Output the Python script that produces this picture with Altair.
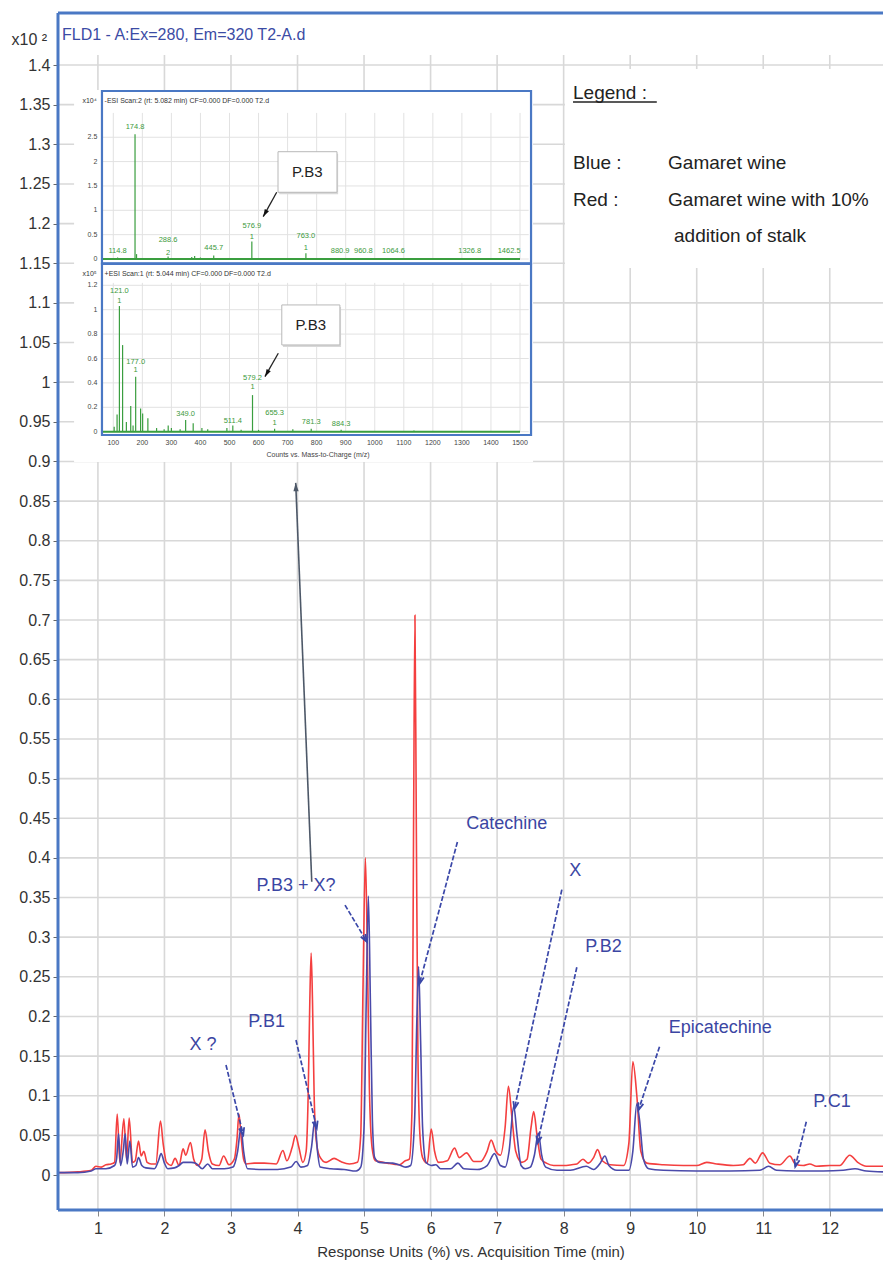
import math
import altair as alt
import pandas as pd

# ---------------- main chromatogram (response x10^2) ----------------
red_trace = [
    (0.40, 0.003), (0.70, 0.004), (0.90, 0.006), (0.97, 0.011), (1.05, 0.010), (1.12, 0.013),
    (1.20, 0.014), (1.25, 0.016), (1.29, 0.077), (1.33, 0.016), (1.39, 0.071), (1.43, 0.020),
    (1.47, 0.072), (1.52, 0.016), (1.56, 0.018), (1.61, 0.043), (1.65, 0.024), (1.69, 0.030),
    (1.74, 0.016), (1.80, 0.014), (1.87, 0.014), (1.94, 0.068), (1.98, 0.040), (2.03, 0.016),
    (2.10, 0.012), (2.16, 0.021), (2.22, 0.012), (2.28, 0.033), (2.32, 0.025), (2.39, 0.041),
    (2.44, 0.020), (2.50, 0.012), (2.56, 0.020), (2.61, 0.057), (2.66, 0.030), (2.72, 0.014),
    (2.82, 0.012), (2.89, 0.024), (2.97, 0.013), (3.05, 0.020), (3.09, 0.045), (3.12, 0.077),
    (3.15, 0.050), (3.19, 0.020), (3.23, 0.014), (3.35, 0.015), (3.50, 0.015), (3.68, 0.014),
    (3.78, 0.031), (3.84, 0.018), (3.92, 0.035), (3.97, 0.050), (4.02, 0.035), (4.08, 0.016),
    (4.13, 0.030), (4.16, 0.100), (4.185, 0.220), (4.205, 0.280), (4.225, 0.220), (4.25, 0.100),
    (4.28, 0.045), (4.33, 0.024), (4.43, 0.016), (4.55, 0.021), (4.65, 0.017), (4.78, 0.014),
    (4.90, 0.016), (4.95, 0.050), (4.985, 0.240), (5.02, 0.400), (5.05, 0.280), (5.08, 0.110),
    (5.12, 0.035), (5.17, 0.018), (5.23, 0.017), (5.35, 0.015), (5.53, 0.013), (5.62, 0.018),
    (5.68, 0.020), (5.72, 0.080), (5.745, 0.450), (5.765, 0.706), (5.785, 0.450), (5.81, 0.150),
    (5.84, 0.050), (5.88, 0.022), (5.95, 0.015), (6.01, 0.058), (6.06, 0.030), (6.12, 0.016),
    (6.25, 0.018), (6.36, 0.034), (6.43, 0.022), (6.54, 0.028), (6.65, 0.017), (6.75, 0.017),
    (6.85, 0.030), (6.91, 0.044), (6.98, 0.030), (7.05, 0.025), (7.12, 0.060), (7.17, 0.112),
    (7.22, 0.075), (7.28, 0.030), (7.37, 0.016), (7.45, 0.020), (7.51, 0.060), (7.55, 0.080),
    (7.60, 0.050), (7.66, 0.020), (7.74, 0.015), (7.85, 0.012), (8.00, 0.012), (8.12, 0.013),
    (8.20, 0.014), (8.29, 0.020), (8.37, 0.015), (8.45, 0.022), (8.51, 0.032), (8.58, 0.018),
    (8.70, 0.013), (8.90, 0.012), (8.98, 0.040), (9.04, 0.143), (9.10, 0.100), (9.16, 0.030),
    (9.25, 0.015), (9.50, 0.013), (9.80, 0.012), (10.00, 0.012), (10.15, 0.016), (10.30, 0.014),
    (10.55, 0.012), (10.70, 0.013), (10.80, 0.021), (10.88, 0.015), (10.99, 0.028), (11.10, 0.015),
    (11.25, 0.013), (11.40, 0.024), (11.48, 0.014), (11.60, 0.012), (11.70, 0.014), (11.80, 0.011),
    (12.00, 0.012), (12.15, 0.012), (12.30, 0.025), (12.42, 0.016), (12.55, 0.011), (12.80, 0.011),
]

blue_trace = [
    (0.40, 0.003), (0.70, 0.003), (0.90, 0.005), (0.97, 0.008), (1.12, 0.008), (1.25, 0.012),
    (1.28, 0.020), (1.31, 0.052), (1.34, 0.012), (1.38, 0.030), (1.41, 0.052), (1.44, 0.014),
    (1.48, 0.043), (1.52, 0.010), (1.57, 0.012), (1.61, 0.022), (1.66, 0.012), (1.72, 0.009),
    (1.85, 0.008), (1.91, 0.018), (1.95, 0.027), (2.00, 0.015), (2.05, 0.008), (2.15, 0.009),
    (2.22, 0.012), (2.28, 0.016), (2.40, 0.016), (2.47, 0.015), (2.57, 0.008), (2.65, 0.014),
    (2.72, 0.008), (2.90, 0.008), (3.03, 0.010), (3.10, 0.030), (3.15, 0.060), (3.19, 0.030),
    (3.25, 0.008), (3.50, 0.007), (3.70, 0.007), (3.90, 0.010), (3.98, 0.017), (4.05, 0.010),
    (4.15, 0.012), (4.21, 0.035), (4.26, 0.069), (4.30, 0.030), (4.34, 0.010), (4.50, 0.008),
    (4.70, 0.007), (4.88, 0.005), (4.95, 0.010), (5.00, 0.060), (5.035, 0.230), (5.065, 0.352),
    (5.095, 0.220), (5.125, 0.070), (5.16, 0.022), (5.23, 0.016), (5.43, 0.015), (5.55, 0.012),
    (5.63, 0.010), (5.70, 0.012), (5.76, 0.070), (5.795, 0.200), (5.82, 0.263), (5.85, 0.170),
    (5.88, 0.060), (5.93, 0.016), (6.01, 0.012), (6.08, 0.013), (6.15, 0.008), (6.30, 0.008),
    (6.41, 0.015), (6.50, 0.008), (6.70, 0.007), (6.85, 0.012), (6.96, 0.027), (7.05, 0.012),
    (7.12, 0.010), (7.18, 0.030), (7.25, 0.087), (7.30, 0.050), (7.36, 0.012), (7.42, 0.008),
    (7.50, 0.010), (7.56, 0.025), (7.62, 0.053), (7.67, 0.025), (7.73, 0.010), (7.90, 0.006),
    (8.10, 0.006), (8.34, 0.011), (8.45, 0.007), (8.55, 0.015), (8.62, 0.024), (8.68, 0.012),
    (8.80, 0.006), (8.98, 0.006), (9.04, 0.030), (9.10, 0.090), (9.14, 0.070), (9.20, 0.020),
    (9.28, 0.008), (9.50, 0.006), (10.00, 0.005), (10.50, 0.005), (10.95, 0.006), (11.08, 0.011),
    (11.20, 0.006), (11.50, 0.005), (11.90, 0.005), (12.20, 0.006), (12.38, 0.008), (12.55, 0.005),
    (12.80, 0.004),
]

# annotations: label text, label position, arrow start, arrow end (time, response)
ann_labels = ["X ?", "P.B1", "P.B3 + X?", "Catechine", "X", "P.B2", "Epicatechine", "P.C1"]
ann_label_t = [2.579, 3.537, 3.977, 7.146, 8.173, 8.599, 10.353, 12.033]
ann_label_v = [0.164, 0.193, 0.3645, 0.4427, 0.384, 0.2876, 0.1854, 0.0925]
arrow_t1 = [2.925, 3.977, 4.714, 6.403, 7.973, 8.198, 9.441, 11.647]
arrow_v1 = [0.1387, 0.1703, 0.3405, 0.420, 0.360, 0.262, 0.1618, 0.0672]
arrow_t2 = [3.185, 4.289, 5.041, 5.832, 7.260, 7.606, 9.125, 11.481]
arrow_v2 = [0.0505, 0.0589, 0.2943, 0.241, 0.0835, 0.040, 0.082, 0.0105]
link_arrow = [(4.214, 0.370), (3.973, 0.873)]

x_ticks = list(range(1, 13))
y_ticks = [round(0.05 * i, 2) for i in range(29)]

legend_title = "Legend :"
legend_keys = ["Blue :", "Red :"]
legend_vals = ["Gamaret wine", "Gamaret wine with  10%"]
legend_extra = "addition of stalk"

# ---------------- inset mass spectra ----------------
top_mz = [114.8, 174.8, 180.0, 288.6, 370.0, 380.0, 400.0, 445.7, 500.0, 576.9, 620.0, 763.0,
          880.9, 960.8, 1064.6, 1326.8, 1462.5]
top_int = [0.03, 2.56, 0.10, 0.05, 0.04, 0.06, 0.03, 0.07, 0.02, 0.36, 0.02, 0.12,
           0.02, 0.015, 0.015, 0.015, 0.02]
top_lab_mz = [114.8, 174.8, 288.6, 288.6, 445.7, 576.9, 576.9, 763.0, 763.0, 880.9, 960.8, 1064.6, 1326.8, 1462.5]
top_lab_v = [0.17, 2.72, 0.39, 0.12, 0.22, 0.68, 0.46, 0.48, 0.23, 0.17, 0.17, 0.17, 0.17, 0.17]
top_lab_txt = ["114.8", "174.8", "288.6", "2", "445.7", "576.9", "1", "763.0", "1", "880.9", "960.8",
               "1064.6", "1326.8", "1462.5"]
top_yticks = [0, 0.5, 1, 1.5, 2, 2.5]

bot_mz = [103, 113, 121.0, 132, 145, 160, 168, 177.0, 194, 201, 219, 249, 275, 289, 300, 330,
          349.0, 375, 405, 425, 491, 511.4, 540, 579.2, 600, 655.3, 718, 781.3, 884.3, 1135]
bot_int = [0.04, 0.14, 1.03, 0.71, 0.08, 0.21, 0.05, 0.45, 0.19, 0.15, 0.11, 0.03, 0.02, 0.05, 0.03, 0.02,
           0.096, 0.07, 0.03, 0.02, 0.03, 0.05, 0.015, 0.30, 0.015, 0.025, 0.02, 0.025, 0.015, 0.01]
bot_lab_mz = [121.0, 121.0, 177.0, 177.0, 349.0, 511.4, 579.2, 579.2, 655.3, 655.3, 781.3, 884.3]
bot_lab_v = [1.156, 1.074, 0.574, 0.506, 0.145, 0.09, 0.438, 0.369, 0.156, 0.069, 0.082, 0.063]
bot_lab_txt = ["121.0", "1", "177.0", "1", "349.0", "511.4", "579.2", "1", "655.3", "1", "781.3", "884.3"]
bot_yticks = [0, 0.2, 0.4, 0.6, 0.8, 1, 1.2]
mz_ticks = list(range(100, 1600, 100))

# ---------------- geometry / styles ----------------
W, H = 825, 1197
XDOM = [0.4, 12.8]
YDOM = [-0.0441, 1.4656]
PXX = W / (XDOM[1] - XDOM[0])
PXY = H / (YDOM[1] - YDOM[0])

NARROW = "Liberation Sans Narrow, Arial Narrow, Liberation Sans, sans-serif"
SANS = "Liberation Sans, Arial, sans-serif"
BLUE_TXT = "#3b46a3"
FRAME = "#4a78c4"
GRID = "#d8d8d8"
GREEN = "#3a9e3f"

xs = alt.Scale(domain=XDOM, nice=False, zero=False)
ys = alt.Scale(domain=YDOM, nice=False, zero=False)

AX_X = alt.Axis(values=x_ticks, title="Response Units (%) vs. Acquisition Time (min)", grid=False,
                domain=False, ticks=True, tickSize=6, tickColor="#888", labelFont=NARROW,
                labelFontSize=16, labelColor="#333", labelPadding=4, titleFont=NARROW,
                titleFontSize=15, titleFontWeight="normal", titleColor="#333", titlePadding=8)
AX_Y = alt.Axis(values=y_ticks, format="~g", title="x10 \u00b2", grid=False, domain=False,
                ticks=True, tickSize=5, tickColor="#666", labelFont=NARROW, labelFontSize=16,
                labelColor="#333", labelPadding=3, titleFont=NARROW, titleFontSize=16,
                titleFontWeight="normal", titleColor="#333", titleAngle=0, titleAlign="left",
                titleBaseline="alphabetic", titleX=-47, titleY=31)


def X(f):
    return alt.X(f, type="quantitative", scale=xs, axis=AX_X)


def Y(f):
    return alt.Y(f, type="quantitative", scale=ys, axis=AX_Y)


def angle(x1, y1, x2, y2, sx, sy):
    dx = (x2 - x1) * sx
    dy = -(y2 - y1) * sy
    return math.degrees(math.atan2(dx, -dy)) % 360


V_HEAD = "M-0.55,1.5 L0,0 L0.55,1.5"
F_HEAD = "M0,0 L-0.5,1.6 L0.5,1.6 Z"

# ---- main layers ----
vgrid = pd.DataFrame({"t": x_ticks, "y0": YDOM[0], "y1": 1.4126})
hgrid = pd.DataFrame({"v": y_ticks, "x0": XDOM[0], "x1": XDOM[1]})
grid_v = alt.Chart(vgrid).mark_rule(color=GRID, strokeWidth=1.6).encode(x=X("t"), y=Y("y0"), y2="y1")
grid_h = alt.Chart(hgrid).mark_rule(color=GRID, strokeWidth=1.6).encode(x=X("x0"), x2="x1", y=Y("v"))

traces = pd.concat([
    pd.DataFrame(red_trace, columns=["t", "v"]).assign(s="red", o=lambda d: range(len(d))),
    pd.DataFrame(blue_trace, columns=["t", "v"]).assign(s="blue", o=lambda d: range(len(d))),
])
lines = alt.Chart(traces).mark_line(strokeWidth=1.6, interpolate="monotone").encode(
    x=X("t"), y=Y("v"), order="o:Q", detail="s:N",
    color=alt.Color("s:N", scale=alt.Scale(domain=["red", "blue"], range=["#f43f3f", "#4a4aaa"]), legend=None),
)

arr = pd.DataFrame({"t1": arrow_t1, "v1": arrow_v1, "t2": arrow_t2, "v2": arrow_v2})
arr["ang"] = [angle(a, b, c, d, PXX, PXY) for a, b, c, d in zip(arrow_t1, arrow_v1, arrow_t2, arrow_v2)]
arrow_lines = alt.Chart(arr).mark_rule(color="#3a47a8", strokeWidth=1.7, strokeDash=[5, 2]).encode(
    x=X("t1"), y=Y("v1"), x2="t2", y2="v2")
arrow_heads = alt.Chart(arr).mark_point(shape=V_HEAD, filled=False, size=95, color="#3a47a8",
                                        strokeWidth=1.8, opacity=1).encode(
    x=X("t2"), y=Y("v2"), angle=alt.Angle("ang:Q", scale=None))
ann = pd.DataFrame({"txt": ann_labels, "t": ann_label_t, "v": ann_label_v})
ann_text = alt.Chart(ann).mark_text(font=SANS, fontSize=18, color=BLUE_TXT, align="center",
                                    baseline="middle").encode(x=X("t"), y=Y("v"), text="txt:N")

lk = pd.DataFrame({"t1": [link_arrow[0][0]], "v1": [link_arrow[0][1]],
                   "t2": [link_arrow[1][0]], "v2": [link_arrow[1][1]]})
lk["ang"] = [angle(link_arrow[0][0], link_arrow[0][1], link_arrow[1][0], link_arrow[1][1], PXX, PXY)]
link_line = alt.Chart(lk).mark_rule(color="#4d5868", strokeWidth=1.6).encode(
    x=X("t1"), y=Y("v1"), x2="t2", y2="v2")
link_head = alt.Chart(lk).mark_point(shape=F_HEAD, filled=True, size=110, color="#4d5868", opacity=1).encode(
    x=X("t2"), y=Y("v2"), angle=alt.Angle("ang:Q", scale=None))

title_df = pd.DataFrame({"txt": ["FLD1 - A:Ex=280, Em=320 T2-A.d"], "t": [0.46], "v": [1.438]})
title_text = alt.Chart(title_df).mark_text(font=NARROW, fontSize=16, color="#3b4ba5", align="left",
                                           baseline="middle").encode(x=X("t"), y=Y("v"), text="txt:N")

leg_box = alt.Chart(pd.DataFrame({"a": [8.02], "b": [XDOM[1]], "c": [1.144], "d": [1.395]})).mark_rect(
    color="white").encode(x=X("a"), x2="b", y=Y("c"), y2="d")
leg_df = pd.DataFrame({
    "txt": [legend_title] + legend_keys + legend_vals + [legend_extra],
    "t": [8.141, 8.141, 8.141, 9.569, 9.569, 9.659],
    "v": [1.3647, 1.2764, 1.2297, 1.2764, 1.2297, 1.1843],
})
leg_text = alt.Chart(leg_df).mark_text(font=SANS, fontSize=19, color="#222", align="left",
                                       baseline="middle").encode(x=X("t"), y=Y("v"), text="txt:N")
leg_ul = alt.Chart(pd.DataFrame({"a": [8.141], "b": [9.40], "v": [1.3533]})).mark_rule(
    color="#222", strokeWidth=1.5).encode(x=X("a"), x2="b", y=Y("v"))

frame = alt.Chart(pd.DataFrame({"k": [0]})).mark_rule(color=FRAME, strokeWidth=3)
frame_l = frame.encode(x=alt.value(0), y=alt.value(0), y2=alt.value(H))
frame_t = frame.encode(x=alt.value(0), x2=alt.value(W), y=alt.value(0))
frame_b = frame.encode(x=alt.value(0), x2=alt.value(W), y=alt.value(H))

main = alt.layer(grid_v, grid_h, lines, arrow_lines, arrow_heads, ann_text, link_line, link_head,
                 title_text, leg_box, leg_text, leg_ul, frame_l, frame_t, frame_b)

# ---- inset ----
IX = alt.Scale(domain=[100, 1500], range=[55.3, 462.0], nice=False, zero=False)
ITY = alt.Scale(domain=[0, 2.5], range=[246.0, 124.25], nice=False, zero=False)
IBY = alt.Scale(domain=[0, 1.2], range=[418.7, 272.3], nice=False, zero=False)
PX_MZ = (462.0 - 55.3) / 1400
PX_TOP = (246.0 - 124.25) / 2.5
PX_BOT = (418.7 - 272.3) / 1.2


def panel(ys_, mz, inten, lab_mz, lab_v, lab_txt, yticks, grid_top, frame_box, header, header_v,
          exp_txt, callout, py_unit, bg=None, xlabels=False):
    def IXe(f):
        return alt.X(f, type="quantitative", scale=IX, axis=None)

    def IYe(f):
        return alt.Y(f, type="quantitative", scale=ys_, axis=None)

    layers = []
    if bg is not None:
        layers.append(alt.Chart(pd.DataFrame([bg], columns=["a", "b", "c", "d"])).mark_rect(
            color="white").encode(x=IXe("a"), x2="b", y=IYe("c"), y2="d"))
    gv = pd.DataFrame({"m": mz_ticks, "y0": 0, "y1": grid_top})
    layers.append(alt.Chart(gv).mark_rule(color="#e2e2e2", strokeWidth=1).encode(x=IXe("m"), y=IYe("y0"), y2="y1"))
    gh = pd.DataFrame({"v": yticks, "x0": 64, "x1": 1530})
    layers.append(alt.Chart(gh).mark_rule(color="#e2e2e2", strokeWidth=1).encode(x=IXe("x0"), x2="x1", y=IYe("v")))
    layers.append(alt.Chart(pd.DataFrame({"a": [64], "b": [1500], "v": [0]})).mark_rule(
        color=GREEN, strokeWidth=2).encode(x=IXe("a"), x2="b", y=IYe("v")))
    sp = pd.DataFrame({"m": mz, "i": inten, "z": 0})
    layers.append(alt.Chart(sp).mark_rule(color=GREEN, strokeWidth=1.2).encode(x=IXe("m"), y=IYe("z"), y2="i"))
    lb = pd.DataFrame({"m": lab_mz, "v": lab_v, "txt": lab_txt})
    layers.append(alt.Chart(lb).mark_text(font=SANS, fontSize=7.5, color="#3c9a3c", align="center",
                                          baseline="middle").encode(x=IXe("m"), y=IYe("v"), text="txt:N"))
    yt = pd.DataFrame({"v": yticks, "m": 45, "txt": [("%g" % t) for t in yticks]})
    layers.append(alt.Chart(yt).mark_text(font=SANS, fontSize=7, color="#444", align="right",
                                          baseline="middle").encode(x=IXe("m"), y=IYe("v"), text="txt:N"))
    hd = pd.DataFrame({"m": [43, 70], "v": [header_v, header_v], "txt": [exp_txt, header], "al": ["r", "l"]})
    layers.append(alt.Chart(hd[hd.al == "r"]).mark_text(font=SANS, fontSize=7, color="#333", align="right",
                                                        baseline="middle").encode(x=IXe("m"), y=IYe("v"), text="txt:N"))
    layers.append(alt.Chart(hd[hd.al == "l"]).mark_text(font=SANS, fontSize=7, color="#333", align="left",
                                                        baseline="middle").encode(x=IXe("m"), y=IYe("v"), text="txt:N"))
    if xlabels:
        xt = pd.DataFrame({"m": mz_ticks, "v": -0.093, "txt": [str(m) for m in mz_ticks]})
        layers.append(alt.Chart(xt).mark_text(font=SANS, fontSize=7, color="#444", align="center",
                                              baseline="middle").encode(x=IXe("m"), y=IYe("v"), text="txt:N"))
        at = pd.DataFrame({"m": [804.6], "v": [-0.191], "txt": ["Counts vs. Mass-to-Charge (m/z)"]})
        layers.append(alt.Chart(at).mark_text(font=SANS, fontSize=7, color="#444", align="center",
                                              baseline="middle").encode(x=IXe("m"), y=IYe("v"), text="txt:N"))
    # callout box + arrow
    (bx0, bx1, by0, by1, tx, tv, ax1, av1, ax2, av2) = callout
    layers.append(alt.Chart(pd.DataFrame({"a": [bx0 + 4], "b": [bx1 + 4], "c": [by0 - 2 / py_unit],
                                          "d": [by1 - 2 / py_unit]})).mark_rect(
        color="#d8d8d8").encode(x=IXe("a"), x2="b", y=IYe("c"), y2="d"))
    layers.append(alt.Chart(pd.DataFrame({"a": [bx0], "b": [bx1], "c": [by0], "d": [by1]})).mark_rect(
        fill="white", stroke="#b8b8b8", strokeWidth=1).encode(x=IXe("a"), x2="b", y=IYe("c"), y2="d"))
    layers.append(alt.Chart(pd.DataFrame({"m": [tx], "v": [tv], "txt": ["P.B3"]})).mark_text(
        font=NARROW, fontSize=15, color="#222", align="center", baseline="middle").encode(
        x=IXe("m"), y=IYe("v"), text="txt:N"))
    ca = pd.DataFrame({"a": [ax1], "b": [av1], "c": [ax2], "d": [av2],
                       "ang": [angle(ax1, av1, ax2, av2, PX_MZ, py_unit)]})
    layers.append(alt.Chart(ca).mark_rule(color="#222", strokeWidth=1.3).encode(
        x=IXe("a"), y=IYe("b"), x2="c", y2="d"))
    layers.append(alt.Chart(ca).mark_point(shape=F_HEAD, filled=True, size=90, color="#111", opacity=1).encode(
        x=IXe("c"), y=IYe("d"), angle=alt.Angle("ang:Q", scale=None)))
    # frame
    fb = pd.DataFrame([frame_box], columns=["a", "b", "c", "d"])
    layers.append(alt.Chart(fb).mark_rect(fill=None, stroke=FRAME, strokeWidth=2.2).encode(
        x=IXe("a"), x2="b", y=IYe("c"), y2="d"))
    return alt.layer(*layers)


inset_top = panel(
    ITY, top_mz, top_int, top_lab_mz, top_lab_v, top_lab_txt, top_yticks, 3.0,
    (61, 1538, -0.09, 3.45), "-ESI Scan:2 (rt: 5.082 min) CF=0.000 DF=0.000 T2.d", 3.24, "x10\u2074",
    (667, 870, 1.37, 2.203, 768, 1.79, 662.5, 1.37, 616, 0.869), PX_TOP,
    bg=(-35, 1545, -4.17, 3.47),
)
inset_bot = panel(
    IBY, bot_mz, bot_int, bot_lab_mz, bot_lab_v, bot_lab_txt, bot_yticks, 1.22,
    (61, 1538, -0.027, 1.375), "+ESI Scan:1 (rt: 5.044 min) CF=0.000 DF=0.000 T2.d", 1.29, "x10\u2075",
    (680, 880, 0.711, 1.039, 780, 0.875, 668, 0.643, 622, 0.451), PX_BOT,
    xlabels=True,
)

chart = alt.layer(main, inset_top, inset_bot).resolve_scale(
    x="independent", y="independent", color="independent"
).properties(
    width=W, height=H,
    autosize=alt.AutoSizeParams(type="none"),
    padding={"left": 50, "top": 5, "right": 0, "bottom": 50},
).configure_view(stroke=None).configure(background="white")

chart.save("out.html", embed_options={"renderer": "svg", "actions": False})
